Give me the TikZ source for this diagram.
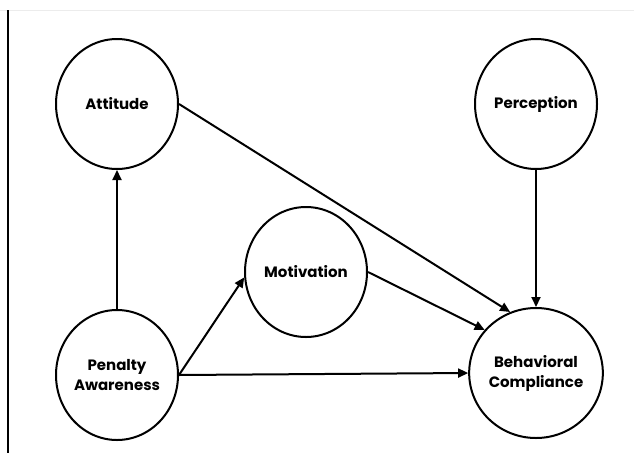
\documentclass[tikz,border=0pt]{standalone}
\usepackage{fontspec}
\setmainfont{Poppins}
\usetikzlibrary{arrows.meta,shapes.geometric}

\tikzset{
  factor/.style={ellipse, draw, line width=2pt, minimum width=122pt, minimum height=130pt,
    inner sep=0pt, align=center, font=\fontsize{15}{20}\selectfont\bfseries},
  path/.style={line width=2pt, -{Triangle[length=10pt,width=9pt]}}
}

\begin{document}
\begin{tikzpicture}[x=1pt, y=-1pt]

  \useasboundingbox (0,0) rectangle (634,453);

  % Frame

  \draw[gray!15, line width=0.8pt] (0,10) -- (634,10);
  \draw[line width=2pt] (8,10) -- (8,453);

  % Nodes

  \node[factor] (att) at (117,104) {Attitude};
  \node[factor] (per) at (536,104) {Perception};
  \node[factor] (mot) at (306,272) {Motivation};
  \node[factor] (pen) at (117,375) {Penalty\\Awareness};
  \node[factor] (beh) at (536,373) {Behavioral\\Compliance};

  % Edges

  \draw[path] (pen) -- (att);
  \draw[path] (pen.east) -- (mot.185);
  \draw[path] (pen.east) -- (beh.west);
  \draw[path] (att.east) -- (beh.113);
  \draw[path] (mot.east) -- (beh.140);
  \draw[path] (per) -- (beh);

\end{tikzpicture}
\end{document}
